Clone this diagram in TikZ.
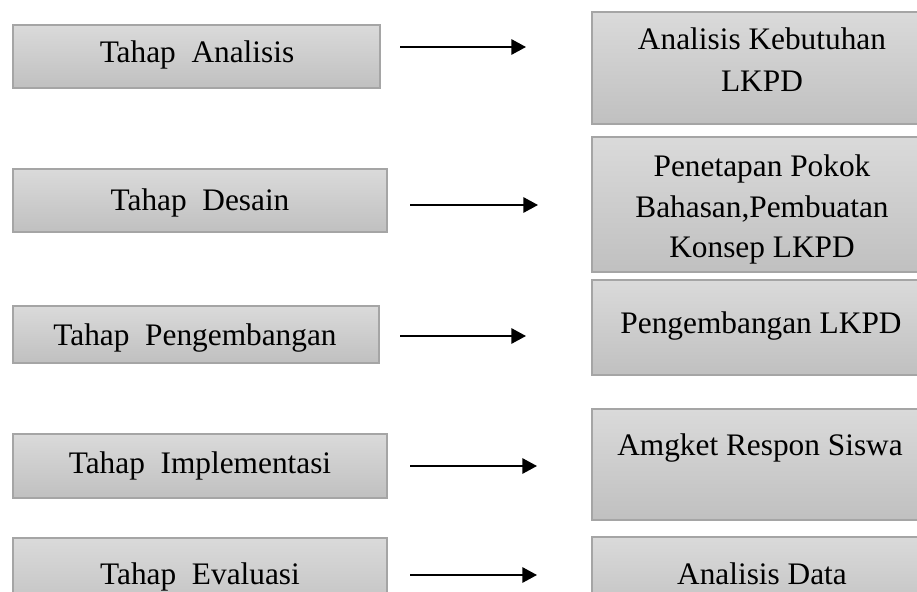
\documentclass[tikz,border=0pt]{standalone}
\usepackage{fontspec}
\setmainfont{Liberation Serif}
\usetikzlibrary{arrows.meta}
\definecolor{boxtop}{RGB}{218,218,218}
\definecolor{boxbot}{RGB}{192,192,192}
\definecolor{boxline}{RGB}{165,165,165}
\tikzset{
  box/.style={draw=boxline, line width=0.9pt, top color=boxtop, bottom color=boxbot, inner sep=0pt},
  lbl/.style={font=\fontsize{23.5}{30.4}\selectfont, inner sep=0pt, anchor=base, align=center},
  arr/.style={line width=1.5pt, -{Triangle[length=11pt,width=11.5pt]}}
}
\newcommand{\mkbox}[5]{%
  \node[box, minimum width={(#4-#2)*0.75pt}, minimum height={(#5-#3)*0.75pt}] (#1) at ({(#2+#4)/2},{(#3+#5)/2}) {};}
\begin{document}
\begin{tikzpicture}[x=0.75pt,y=-0.75pt]
\useasboundingbox (0,0) rectangle (917,592);
\clip (0,0) rectangle (917,592);
\fill[white] (0,0) rectangle (917,592);
% left boxes
\mkbox{l1}{13}{25}{380}{88}
\mkbox{l2}{13}{169}{387}{232}
\mkbox{l3}{13}{306}{379}{363}
\mkbox{l4}{13}{434}{387}{498}
\mkbox{l5}{13}{538}{387}{618}
% right boxes
\mkbox{r1}{592}{12}{932}{124}
\mkbox{r2}{592}{137}{932}{272}
\mkbox{r3}{592}{280}{932}{375}
\mkbox{r4}{592}{409}{932}{520}
\mkbox{r5}{592}{537}{932}{620}
% left texts
\node[lbl] (tl1) at (197,63) {Tahap~~Analisis};
\node[lbl] (tl2) at (200,210) {Tahap~~Desain};
\node[lbl] (tl3) at (195,345) {Tahap~~Pengembangan};
\node[lbl] (tl4) at (200,473) {Tahap~~Implementasi};
\node[lbl] (tl5) at (200,584) {Tahap~~Evaluasi};
% right texts
\node[lbl] (tr1a) at (762,50) {Analisis Kebutuhan};
\node[lbl] (tr1b) at (762,91) {LKPD};
\node[lbl] (tr2a) at (762,176) {Penetapan Pokok};
\node[lbl] (tr2b) at (762,217) {Bahasan,Pembuatan};
\node[lbl] (tr2c) at (762,257) {Konsep LKPD};
\node[lbl] (tr3) at (761,333) {Pengembangan LKPD};
\node[lbl] (tr4) at (760,455) {Amgket Respon Siswa};
\node[lbl] (tr5) at (762,584) {Analisis Data};
% arrows
\coordinate (a1s) at (400,47);  \coordinate (a1e) at (526,47);
\coordinate (a2s) at (410,205); \coordinate (a2e) at (538,205);
\coordinate (a3s) at (400,336); \coordinate (a3e) at (526,336);
\coordinate (a4s) at (410,466); \coordinate (a4e) at (537,466);
\coordinate (a5s) at (410,575); \coordinate (a5e) at (537,575);
\draw[arr] (a1s) -- (a1e);
\draw[arr] (a2s) -- (a2e);
\draw[arr] (a3s) -- (a3e);
\draw[arr] (a4s) -- (a4e);
\draw[arr] (a5s) -- (a5e);
\end{tikzpicture}
\end{document}
